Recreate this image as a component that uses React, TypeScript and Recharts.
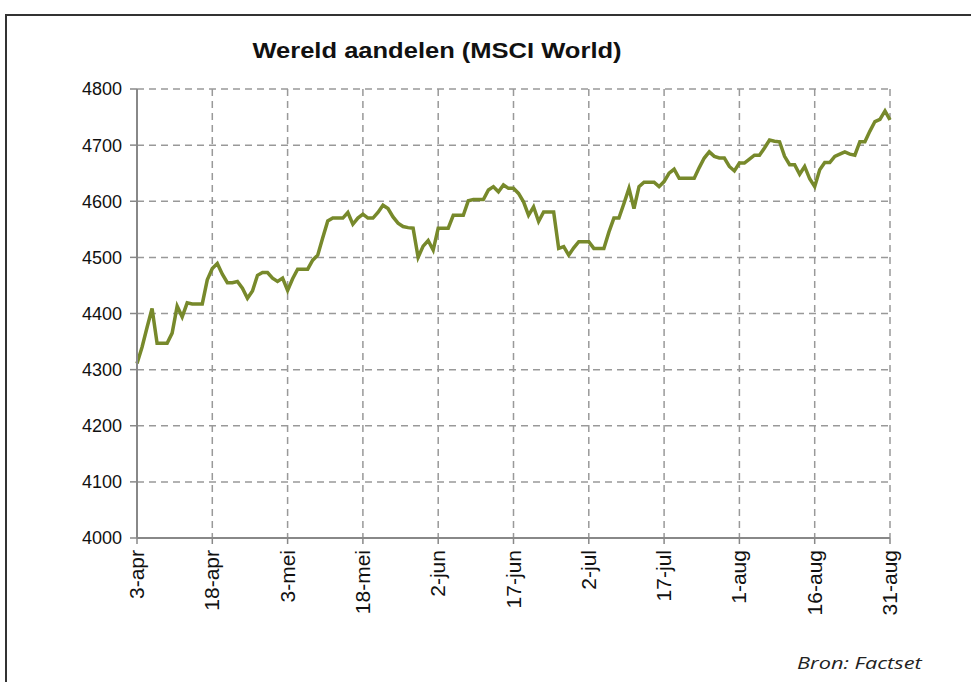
import { CartesianGrid, Line, LineChart, XAxis, YAxis } from "recharts";

// day offsets from 3-apr, one reading per calendar day
const days: number[] = Array.from({ length: 151 }, (_, i) => i);

const values: number[] = [
  4311, 4340, 4375, 4409, 4347, 4347, 4347, 4365, 4413, 4394,
  4419, 4417, 4417, 4417, 4460, 4480, 4489, 4470, 4455, 4455,
  4457, 4445, 4427, 4440, 4468, 4473, 4473, 4463, 4457, 4463,
  4441, 4462, 4479, 4479, 4479, 4495, 4504, 4535, 4565, 4570,
  4570, 4570, 4580, 4559, 4570, 4577, 4570, 4570, 4580, 4593,
  4587, 4572, 4561, 4555, 4553, 4552, 4500, 4520, 4530, 4513,
  4552, 4552, 4552, 4575, 4575, 4575, 4601, 4603, 4603, 4603,
  4620, 4626, 4617, 4629, 4623, 4623, 4614, 4599, 4575, 4590,
  4564, 4581, 4581, 4581, 4516, 4519, 4504, 4517, 4528, 4528,
  4528, 4516, 4516, 4516, 4545, 4570, 4570, 4596, 4623, 4587,
  4626, 4634, 4634, 4634, 4626, 4635, 4650, 4657, 4641, 4641,
  4641, 4641, 4660, 4677, 4688, 4680, 4677, 4677, 4662, 4654,
  4668, 4668, 4675, 4682, 4682, 4695, 4709, 4707, 4706, 4680,
  4665, 4665, 4648, 4662, 4640, 4626, 4656, 4669, 4669, 4680,
  4684, 4688, 4684, 4682, 4706, 4706, 4725, 4742, 4746, 4761,
  4745,
];

const xTicks: number[] = [0, 15, 30, 45, 60, 75, 90, 105, 120, 135, 150];
const xLabels: string[] = [
  "3-apr", "18-apr", "3-mei", "18-mei", "2-jun", "17-jun",
  "2-jul", "17-jul", "1-aug", "16-aug", "31-aug",
];
const yTicks: number[] = [4000, 4100, 4200, 4300, 4400, 4500, 4600, 4700, 4800];

const data = days.map((d, i) => ({ day: d, value: values[i] }));

const font = '"Liberation Sans", Arial, sans-serif';

function DateTick({ x, y, payload }: any) {
  const idx = xTicks.indexOf(payload.value);
  return (
    <text
      x={x}
      y={y}
      transform={`rotate(-90 ${x} ${y})`}
      textAnchor="end"
      dx={-2}
      dy={7}
      fontSize={21}
      fontFamily={font}
      fill="#111"
    >
      {xLabels[idx]}
    </text>
  );
}

export default function App() {
  return (
    <div
      style={{
        position: "absolute",
        left: 0,
        top: 0,
        width: 971,
        height: 682,
        overflow: "hidden",
        background: "#fff",
      }}
    >
      <div
        style={{
          position: "absolute",
          left: 5,
          top: 14,
          width: 1000,
          height: 720,
          borderLeft: "2px solid #333",
          borderTop: "2px solid #333",
        }}
      />
      <div
        style={{
          position: "absolute",
          left: 137,
          width: 600,
          top: 38,
          textAlign: "center",
          fontFamily: font,
          fontWeight: "bold",
          fontSize: 22,
          color: "#111",
          transform: "scaleX(1.16)",
          transformOrigin: "300px 0",
        }}
      >
        Wereld aandelen (MSCI World)
      </div>
      <div
        style={{
          position: "absolute",
          left: 797,
          top: 651,
          fontFamily: '"Open Sans", sans-serif',
          fontStyle: "italic",
          fontSize: 17,
          color: "#222",
          transform: "scaleX(1.28)",
          transformOrigin: "0 0",
        }}
      >
        Bron: Factset
      </div>
      <div style={{ position: "absolute", left: 0, top: 0 }}>
        <LineChart
          width={971}
          height={682}
          data={data}
          margin={{ top: 89, right: 81, left: 0, bottom: 0 }}
        >
          <CartesianGrid stroke="#999" strokeWidth={1.5} strokeDasharray="7 5" />
          <XAxis
            dataKey="day"
            type="number"
            domain={[0, 150]}
            ticks={xTicks}
            interval={0}
            tick={<DateTick />}
            tickSize={6}
            tickMargin={4}
            axisLine={{ stroke: "#888", strokeWidth: 2 }}
            tickLine={{ stroke: "#888", strokeWidth: 1.5 }}
            height={144}
          />
          <YAxis
            type="number"
            domain={[4000, 4800]}
            ticks={yTicks}
            interval={0}
            width={137}
            tickSize={7}
            tickMargin={8}
            axisLine={{ stroke: "#888", strokeWidth: 2 }}
            tickLine={{ stroke: "#888", strokeWidth: 1.5 }}
            tick={{ fontSize: 18, fontFamily: font, fill: "#111" }}
          />
          <Line
            type="linear"
            dataKey="value"
            stroke="#77892b"
            strokeWidth={3.5}
            dot={false}
            isAnimationActive={false}
          />
        </LineChart>
      </div>
    </div>
  );
}
